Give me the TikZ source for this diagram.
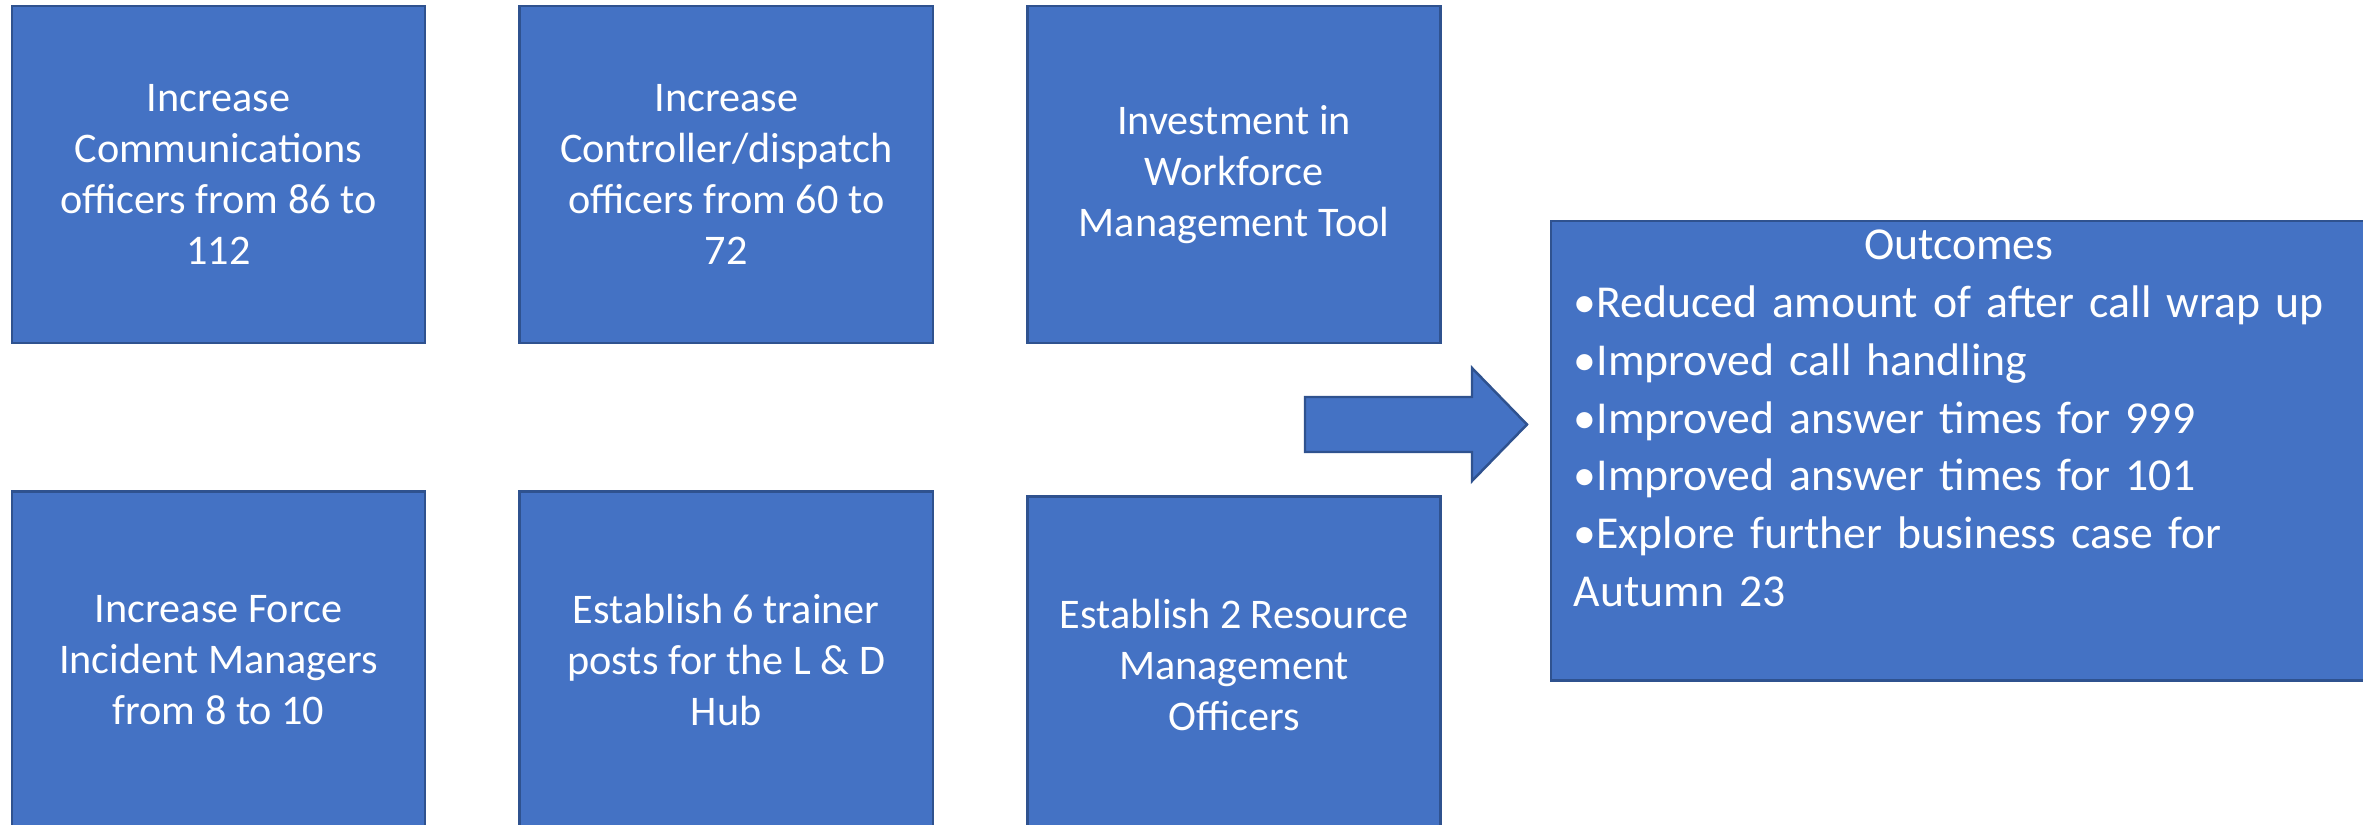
\documentclass[tikz,border=0pt]{standalone}
\usepackage{fontspec}
\setmainfont{Carlito}
\usetikzlibrary{positioning}
\definecolor{boxblue}{HTML}{4472C4}
\definecolor{boxedge}{HTML}{2F528F}

\begin{document}
\begin{tikzpicture}[x=0.01cm, y=-0.01cm,
    actbox/.style={draw=boxedge, fill=boxblue, line width=0.7pt, minimum width=4.13cm, minimum height=3.37cm,
      inner sep=0pt, text=white, align=center, font=\fontsize{12}{14.5}\selectfont},
    outbox/.style={draw=boxedge, fill=boxblue, line width=0.7pt, minimum width=8.16cm, minimum height=4.59cm, inner sep=0pt},
    outtext/.style={text=white, text width=7.85cm, inner sep=0pt, align=left, font=\fontsize{13}{16.4}\selectfont}]
  \useasboundingbox (0,0) rectangle (2363,825);
  % Top row
  \node[actbox] (comms) at (218.5,174.5) {Increase\\Communications\\officers from 86 to\\112};
  \node[actbox, right=0.92cm of comms] (dispatch) {Increase\\Controller/dispatch\\officers from 60 to\\72};
  \node[actbox, right=0.92cm of dispatch] (wfm) {Investment in\\Workforce\\Management Tool};
  % Bottom row
  \node[actbox, below=1.46cm of comms] (fim) {Increase Force\\Incident Managers\\from 8 to 10};
  \node[actbox, below=1.46cm of dispatch] (trainers) {Establish 6 trainer\\posts for the L \& D\\Hub};
  \node[actbox, below=1.51cm of wfm] (rmo) {Establish 2 Resource\\Management\\Officers};
  % Block arrow
  \draw[draw=boxedge, fill=boxblue, line width=0.7pt] (1305,397) -- (1472,397) -- (1472,368) -- (1527,424.5)
    -- (1472,481) -- (1472,452) -- (1305,452) -- cycle;
  % Outcomes
  \node[outbox, anchor=north west] (outcomes) at (1550,220) {};
  \node[outtext, anchor=base west] (outlist) at (1573,260) {\makebox[7.7cm][c]{Outcomes}\\
    \textbullet Reduced amount of after call wrap up\\
    \textbullet Improved call handling\\
    \textbullet Improved answer times for 999\\
    \textbullet Improved answer times for 101\\
    \textbullet Explore further business case for\\
    Autumn 23};
\end{tikzpicture}
\end{document}
